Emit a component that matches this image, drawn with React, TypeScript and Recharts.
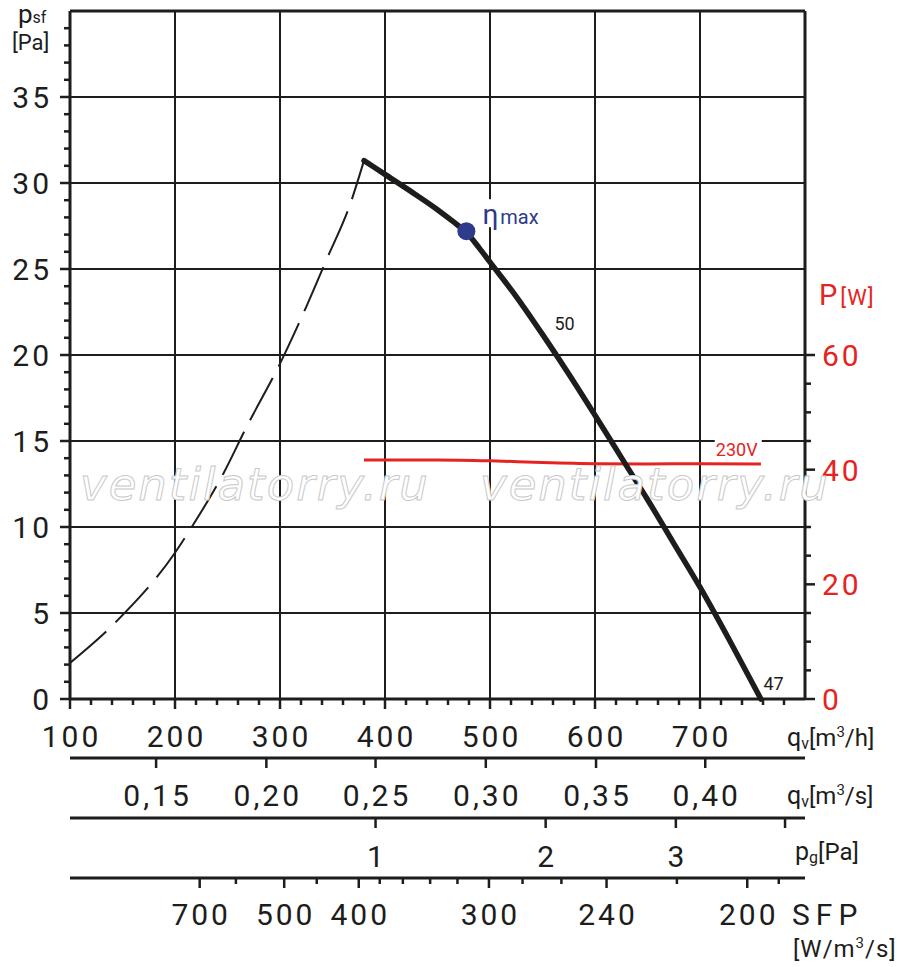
import React from "react";
import {
  ComposedChart,
  Line,
  XAxis,
  YAxis,
  ReferenceLine,
  ReferenceDot,
} from "recharts";

const INK = "#1d1d1b";
const RED = "#e52421";
const BLUE = "#2e3a8c";
const FONT = "Roboto, sans-serif";

// unstable part of the pressure curve (dashed)
const stallQ = [100, 144, 200, 217, 246, 268, 300, 325, 344, 367, 380];
const stallP = [2.1, 4.5, 8.5, 10.1, 13.1, 15.8, 19.5, 22.8, 25.5, 28.8, 31.3];

// working part of the pressure curve
const workQ = [380, 400, 425, 450, 465, 478, 490, 500, 525, 550, 575, 600, 625, 650, 675, 700, 730, 758];
const workP = [31.3, 30.5, 29.5, 28.45, 27.75, 27.1, 26.2, 25.4, 23.4, 21.2, 18.9, 16.5, 14.05, 11.6, 9.05, 6.5, 3.2, 0];

// power input, 230V
const powerQ = [380, 450, 500, 550, 600, 650, 700, 758];
const powerW = [41.7, 41.7, 41.55, 41.25, 41.05, 41.0, 41.05, 41.0];

const etaQ = 477.5;
const etaP = 27.2;

// curve notes
const noteText = ["50", "47"];
const noteQ = [571, 770];
const noteP = [21.8, 0.9];

// main scales
const qLabels = [100, 200, 300, 400, 500, 600, 700];
const qMinor = Array.from({ length: 35 }, (_, i) => 100 + i * 20);
const qGrid = [200, 300, 400, 500, 600, 700];
const pLabels = [0, 5, 10, 15, 20, 25, 30, 35];
const pMinor = Array.from({ length: 40 }, (_, i) => i);
const pGrid = [5, 10, 15, 20, 25, 30, 35];
const wLabels = [0, 20, 40, 60];
const wMinor = Array.from({ length: 13 }, (_, i) => i * 5);

// secondary scales, given as the matching point on the m3/h scale
const qsLabels = ["0,15", "0,20", "0,25", "0,30", "0,35", "0,40"];
const qsAt = [182, 287, 391, 496, 601, 705];
const pgLabels = ["1", "2", "3", ""];
const pgAt = [391, 553, 677, 781];
const sfpLabels = ["700", "500", "400", "300", "240", "200"];
const sfpAt = [223.5, 304, 375, 499, 611, 745];
const sfpMinorAt = [258, 335, 395, 417, 443, 469, 531, 568, 678, 775];

const stallData = stallQ.map((q, i) => ({ q, p: stallP[i] }));
const workData = workQ.map((q, i) => ({ q, p: workP[i] }));
const powerData = powerQ.map((q, i) => ({ q, w: powerW[i] }));

function bottomTick(
  label: (v: number) => string,
  major: (v: number) => boolean,
  dy: number
) {
  return (props: any) => {
    const { x, y, payload } = props;
    const v = payload.value;
    const text = label(v);
    return (
      <g>
        <line x1={x} x2={x} y1={y} y2={y + (major(v) ? 10 : 6)} stroke={INK} strokeWidth={2.5} />
        {text ? (
          <text x={x + 1.5} y={y + dy} textAnchor="middle" fontSize={30} letterSpacing={3} fill={INK} fontFamily={FONT}>
            {text}
          </text>
        ) : null}
      </g>
    );
  };
}

const LeftTick = (props: any) => {
  const { x, y, payload } = props;
  const v = payload.value;
  const major = pLabels.includes(v);
  return (
    <g>
      <line x1={x - (major ? 10 : 6)} x2={x} y1={y} y2={y} stroke={INK} strokeWidth={2.5} />
      {major ? (
        <text x={x - 18} y={y + 11} textAnchor="end" fontSize={30} letterSpacing={3} fill={INK} fontFamily={FONT}>
          {v}
        </text>
      ) : null}
    </g>
  );
};

const RightTick = (props: any) => {
  const { x, y, payload } = props;
  const v = payload.value;
  const major = wLabels.includes(v);
  return (
    <g>
      <line x1={x} x2={x + (major ? 10 : 6)} y1={y} y2={y} stroke={INK} strokeWidth={2.5} />
      {major ? (
        <text x={x + 17} y={y + 11} fontSize={30} letterSpacing={3} fill={RED} fontFamily={FONT}>
          {v}
        </text>
      ) : null}
    </g>
  );
};

const NoteShape = (text: string) => (props: any) => (
  <text x={props.cx} y={props.cy + 6} textAnchor="middle" fontSize={18} fill={INK} fontFamily={FONT}>
    {text}
  </text>
);

const VoltShape = (props: any) => (
  <g>
    <rect x={props.cx - 22} y={props.cy - 13} width={47} height={21} fill="#fff" />
    <text x={props.cx} y={props.cy + 6} textAnchor="middle" fontSize={18} fill={RED} fontFamily={FONT}>
      230V
    </text>
  </g>
);

const EtaShape = (props: any) => (
  <g>
    <rect x={props.cx + 14} y={props.cy - 32} width={60} height={28} fill="#fff" />
    <circle cx={props.cx} cy={props.cy} r={9} fill={BLUE} />
    <text x={props.cx + 16} y={props.cy - 7} fill={BLUE} fontFamily={FONT}>
      <tspan fontSize={28}>η</tspan>
      <tspan fontSize={20} dx={2}>max</tspan>
    </text>
  </g>
);

export default function App() {
  const axisLine = { stroke: INK, strokeWidth: 3 };
  const bottomCommon = {
    type: "number" as const,
    dataKey: "q",
    domain: [100, 800],
    allowDataOverflow: true,
    interval: 0 as const,
    tickSize: 0,
    tickMargin: 0,
    tickLine: false,
    axisLine,
  };

  return (
    <div style={{ position: "absolute", left: 0, top: 0, width: 900, height: 967, background: "#fff" }}>
      <ComposedChart width={900} height={967} margin={{ top: 11, right: 0, bottom: 0, left: 0 }}>
        <XAxis
          {...bottomCommon}
          xAxisId="a1"
          height={59}
          ticks={qMinor}
          tick={bottomTick(
            (v) => (qLabels.includes(v) ? String(v) : ""),
            (v) => qLabels.includes(v),
            48
          )}
        />
        <XAxis
          {...bottomCommon}
          xAxisId="a2"
          height={60}
          ticks={qsAt}
          tick={bottomTick((v) => qsLabels[qsAt.indexOf(v)] ?? "", () => true, 48)}
        />
        <XAxis
          {...bottomCommon}
          xAxisId="a3"
          height={60}
          ticks={pgAt}
          tick={bottomTick((v) => pgLabels[pgAt.indexOf(v)] ?? "", () => true, 49)}
        />
        <XAxis
          {...bottomCommon}
          xAxisId="a4"
          height={89}
          ticks={[...sfpAt, ...sfpMinorAt].sort((a, b) => a - b)}
          tick={bottomTick(
            (v) => sfpLabels[sfpAt.indexOf(v)] ?? "",
            (v) => sfpAt.includes(v),
            47
          )}
        />

        <YAxis
          yAxisId="p"
          type="number"
          width={70}
          domain={[0, 40]}
          ticks={pMinor}
          interval={0}
          tickSize={0}
          tickMargin={0}
          tickLine={false}
          axisLine={axisLine}
          tick={LeftTick}
        />
        <YAxis
          yAxisId="w"
          orientation="right"
          type="number"
          width={95}
          domain={[0, 120]}
          ticks={wMinor}
          interval={0}
          tickSize={0}
          tickMargin={0}
          tickLine={false}
          axisLine={axisLine}
          tick={RightTick}
        />

        {qGrid.map((q) => (
          <ReferenceLine key={"gx" + q} xAxisId="a1" yAxisId="p" x={q} stroke={INK} strokeWidth={2} zIndex={-50} />
        ))}
        {pGrid.map((p) => (
          <ReferenceLine key={"gy" + p} xAxisId="a1" yAxisId="p" y={p} stroke={INK} strokeWidth={2} zIndex={-50} />
        ))}
        <ReferenceLine xAxisId="a1" yAxisId="p" y={40} stroke={INK} strokeWidth={3} zIndex={-50} />

        <Line
          xAxisId="a1"
          yAxisId="p"
          data={stallData}
          dataKey="p"
          type="monotone"
          stroke={INK}
          strokeWidth={2}
          strokeDasharray="48 13"
          dot={false}
          isAnimationActive={false}
        />
        <Line
          xAxisId="a1"
          yAxisId="w"
          data={powerData}
          dataKey="w"
          type="monotone"
          stroke={RED}
          strokeWidth={3}
          dot={false}
          isAnimationActive={false}
        />
        <Line
          xAxisId="a1"
          yAxisId="p"
          data={workData}
          dataKey="p"
          type="monotone"
          stroke={INK}
          strokeWidth={5.5}
          strokeLinecap="round"
          dot={false}
          isAnimationActive={false}
        />

        <ReferenceDot xAxisId="a1" yAxisId="p" x={etaQ} y={etaP} r={9} shape={EtaShape} zIndex={1500} />
        {noteText.map((t, i) => (
          <ReferenceDot key={t} xAxisId="a1" yAxisId="p" x={noteQ[i]} y={noteP[i]} r={1} shape={NoteShape(t)} zIndex={1500} />
        ))}
        <ReferenceDot xAxisId="a1" yAxisId="p" x={735} y={14.45} r={1} shape={VoltShape} zIndex={1500} />
      </ComposedChart>

      <svg width={900} height={967} style={{ position: "absolute", left: 0, top: 0, pointerEvents: "none" }}>
        <g fontFamily="DejaVu Sans, sans-serif" fontStyle="italic" fontSize={45} letterSpacing={2} fill="#fff" stroke="#c9c9c9" strokeWidth={1}>
          <text x={80} y={500}>ventilatorry.ru</text>
          <text x={480} y={500}>ventilatorry.ru</text>
        </g>
        <g fontFamily={FONT} fill={INK}>
          <text x={18} y={23}>
            <tspan fontSize={26}>p</tspan>
            <tspan fontSize={16}>sf</tspan>
          </text>
          <text x={12} y={50} fontSize={22}>[Pa]</text>

          <text x={787} y={746}>
            <tspan fontSize={25}>q</tspan>
            <tspan fontSize={16} dy={3}>v</tspan>
            <tspan fontSize={24} dy={-3}>[m</tspan>
            <tspan fontSize={15} dy={-9}>3</tspan>
            <tspan fontSize={24} dy={9}>/h]</tspan>
          </text>
          <text x={787} y={804}>
            <tspan fontSize={25}>q</tspan>
            <tspan fontSize={16} dy={3}>v</tspan>
            <tspan fontSize={24} dy={-3}>[m</tspan>
            <tspan fontSize={15} dy={-9}>3</tspan>
            <tspan fontSize={24} dy={9}>/s]</tspan>
          </text>
          <text x={795} y={860}>
            <tspan fontSize={25}>p</tspan>
            <tspan fontSize={16} dy={3}>g</tspan>
            <tspan fontSize={24} dy={-3}>[Pa]</tspan>
          </text>
          <text x={792} y={925} fontSize={30} letterSpacing={6}>SFP</text>
          <text x={793} y={957} letterSpacing={1}>
            <tspan fontSize={24}>[W/m</tspan>
            <tspan fontSize={15} dy={-9}>3</tspan>
            <tspan fontSize={24} dy={9}>/s]</tspan>
          </text>
        </g>
        <text x={819} y={305} fontFamily={FONT} fill={RED}>
          <tspan fontSize={29}>P</tspan>
          <tspan fontSize={22} dx={3} letterSpacing={1}>[W]</tspan>
        </text>
      </svg>
    </div>
  );
}
